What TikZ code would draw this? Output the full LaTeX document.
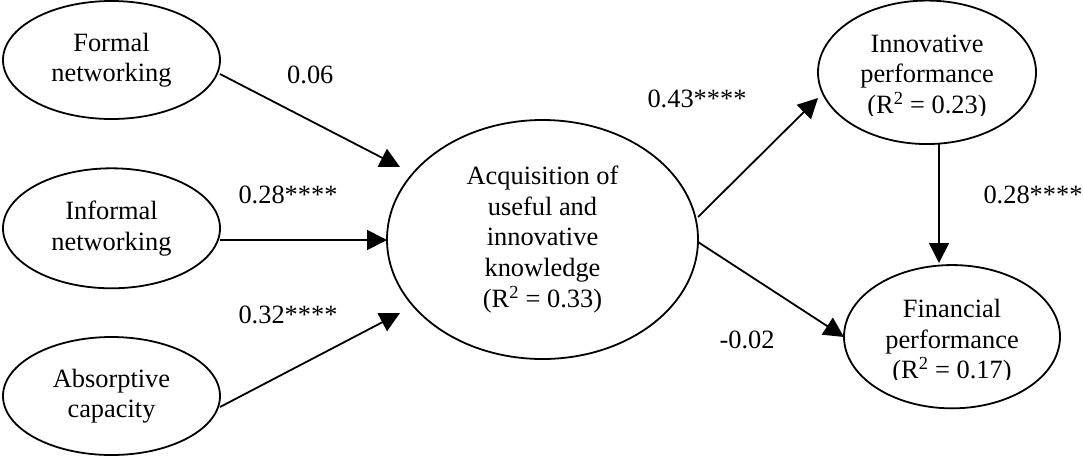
\documentclass[tikz,border=0pt]{standalone}
\usepackage{fontspec}
\setmainfont{Liberation Serif}
\usetikzlibrary{shapes.geometric,arrows.meta,calc}
\begin{document}
\begin{tikzpicture}[x=1pt,y=-1pt,
  lat/.style={draw, ellipse, line width=1.8pt, inner sep=0pt, align=center,
    font=\fontsize{26.4}{30.6}\selectfont},
  txt/.style={inner sep=0pt, align=center, font=\fontsize{26.4}{30.6}\selectfont},
  coef/.style={inner sep=0pt, anchor=base west, font=\fontsize{26.4}{30.6}\selectfont},
  conn/.style={line width=1.8pt, -{Triangle[length=20pt,width=20pt]}}]
\useasboundingbox (0,0) rectangle (1083,456);
% latent variables
\node[lat, minimum width=217pt, minimum height=118pt] (formal) at (111.5,60) {Formal\\networking};
\node[lat, minimum width=217pt, minimum height=120pt] (informal) at (111.5,228.3) {Informal\\networking};
\node[lat, minimum width=217pt, minimum height=118pt] (absorp) at (111.5,396) {Absorptive\\capacity};
\node[lat, minimum width=311pt, minimum height=239pt] (acq) at (542.5,239.5) {Acquisition of\\useful and\\innovative\\knowledge\\(R\textsuperscript{2} = 0.33)};
\node[lat, minimum width=218pt, minimum height=143.5pt] (innov) at (927,72.3) {};
\node[lat, minimum width=216pt, minimum height=143.3pt] (fin) at (952,336.7) {};
\begin{scope}
  \clip (800,0) rectangle (1060,115);
  \node[txt] (innovtxt) at ($(innov)+(0,4.7)$) {Innovative\\performance\\(R\textsuperscript{2} = 0.23)};
\end{scope}
\begin{scope}
  \clip (830,250) rectangle (1075,379);
  \node[txt] (fintxt) at ($(fin)+(0,5)$) {Financial\\performance\\(R\textsuperscript{2} = 0.17)};
\end{scope}
% paths
\draw[conn] ($(formal)+(108.5,14)$) -- ($(acq)+(-142.5,-72.5)$);
\draw[conn] ($(informal)+(108.5,11.7)$) -- ($(acq)+(-155.5,0.5)$);
\draw[conn] ($(absorp)+(108.5,11)$) -- ($(acq)+(-142.5,73.5)$);
\draw[conn] ($(acq)+(155.5,-22.5)$) -- ($(innov)+(-109,25.7)$);
\draw[conn] ($(acq)+(155.5,2.5)$) -- ($(fin)+(-108,0.3)$);
\draw[conn] ($(innov)+(12,71.7)$) -- ($(fin)+(-13,-73.7)$);
% coefficients
\node[coef] (c1) at (287,83) {0.06};
\node[coef] (c2) at (238.3,203.3) {0.28****};
\node[coef] (c3) at (238.3,323) {0.32****};
\node[coef] (c4) at (647.3,107) {0.43****};
\node[coef] (c5) at (983.3,203.3) {0.28****};
\node[coef] (c6) at (719.3,348) {-0.02};
\end{tikzpicture}
\end{document}
